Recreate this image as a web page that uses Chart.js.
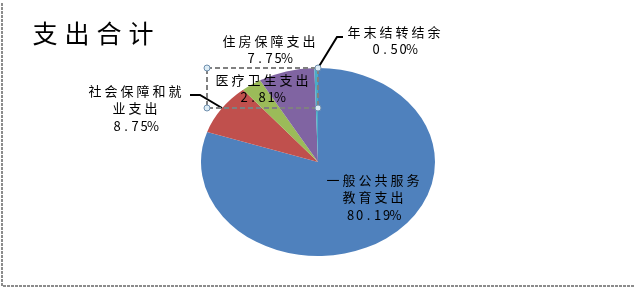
<!DOCTYPE html>
<html><head><meta charset="utf-8">
<script src="https://cdn.jsdelivr.net/npm/chart.js@4/dist/chart.umd.min.js"></script>
<style>html,body{margin:0;padding:0;background:#fff;overflow:hidden}</style>
</head><body>
<canvas id="c" width="636" height="290" style="display:block;width:636px;height:290px"></canvas>
<script>
const title = '支出合计';
const categories = ['一般公共服务教育支出', '社会保障和就业支出', '医疗卫生支出', '住房保障支出', '年末结转结余'];
const values = [80.19, 8.75, 2.81, 7.75, 0.50];
const colors = ['#4F81BD', '#C0504D', '#9BBB59', '#8064A2', '#4BACC6'];
// label anchors (first-line centre) relative to the pie centre
const labelOffsets = [[55, 18], [-183, -71], [-56, -82], [-49, -121], [76, -130]];

const FONT = '"Noto Sans CJK SC", "Noto Sans", sans-serif';
const ELLIPSE = 94 / 117;

function drawSpaced(ctx, text, cx, cy, size, cjkPitch, asciiPitch) {
  ctx.font = size + 'px ' + FONT;
  ctx.textAlign = 'center';
  ctx.textBaseline = 'middle';
  const chars = [...text];
  const slots = chars.map(ch => ch.charCodeAt(0) < 256 ? asciiPitch : cjkPitch);
  const total = slots.reduce((a, b) => a + b, 0);
  let x = cx - total / 2;
  chars.forEach((ch, i) => { ctx.fillText(ch, x + slots[i] / 2, cy); x += slots[i]; });
}
function wrap(s, n) { const out = []; const a = [...s]; for (let i = 0; i < a.length; i += n) out.push(a.slice(i, i + n).join('')); return out; }

const decor = {
  id: 'decor',
  beforeDraw(chart) {
    const ctx = chart.ctx;
    ctx.save();
    ctx.fillStyle = '#fff';
    ctx.fillRect(0, 0, chart.width, chart.height);
    ctx.strokeStyle = '#8c8c8c';
    ctx.lineWidth = 2;
    ctx.setLineDash([3, 1]);
    ctx.beginPath();
    ctx.moveTo(2, 3); ctx.lineTo(2, 286); ctx.lineTo(634, 286);
    ctx.stroke();
    ctx.restore();
  },
  beforeDatasetsDraw(chart) {
    const arc = chart.getDatasetMeta(0).data[0];
    const ctx = chart.ctx;
    ctx.save();
    ctx.translate(arc.x, arc.y);
    ctx.scale(1, ELLIPSE);
    ctx.translate(-arc.x, -arc.y);
  },
  afterDatasetsDraw(chart) {
    chart.ctx.restore();
  },
  afterDraw(chart) {
    const ctx = chart.ctx;
    const arc = chart.getDatasetMeta(0).data[0];
    const cx = arc.x, cy = arc.y;
    ctx.save();
    ctx.fillStyle = '#000';
    drawSpaced(ctx, title, 93, 33, 25, 32, 16);
    // leader lines
    ctx.strokeStyle = '#000';
    ctx.lineWidth = 2;
    ctx.beginPath();
    ctx.moveTo(cx - 128, cy - 67); ctx.lineTo(cx - 118, cy - 67); ctx.lineTo(cx - 96, cy - 54);
    ctx.moveTo(cx, cy - 94); ctx.lineTo(cx + 19, cy - 125); ctx.lineTo(cx + 25, cy - 125);
    ctx.stroke();
    // selection box around one label
    ctx.strokeStyle = '#808080';
    ctx.setLineDash([5, 3]);
    ctx.strokeRect(cx - 111, cy - 94, 111, 40);
    ctx.setLineDash([]);
    ctx.lineWidth = 1;
    [[cx - 111, cy - 94], [cx, cy - 94], [cx - 111, cy - 54], [cx, cy - 54]].forEach(([x, y]) => {
      ctx.beginPath(); ctx.arc(x, y, 3, 0, Math.PI * 2);
      ctx.fillStyle = '#dcecf5'; ctx.fill();
      ctx.strokeStyle = '#6f8fae'; ctx.stroke();
    });
    ctx.fillStyle = '#000';
    categories.forEach((name, i) => {
      const lines = wrap(name, 6).concat([values[i].toFixed(2) + '%']);
      const [dx, dy] = labelOffsets[i];
      lines.forEach((ln, j) => drawSpaced(ctx, ln, cx + dx, cy + dy + j * 17.5, 13, 16, 9));
    });
    ctx.restore();
  }
};

new Chart(document.getElementById('c'), {
  type: 'pie',
  data: {
    labels: categories,
    datasets: [{ data: values, backgroundColor: colors, borderWidth: 0, hoverBorderWidth: 0, hoverOffset: 0 }]
  },
  options: {
    responsive: false,
    animation: false,
    devicePixelRatio: 1,
    layout: { padding: { left: 201, right: 201, top: 45, bottom: 11 } },
    plugins: { legend: { display: false }, tooltip: { enabled: false } }
  },
  plugins: [decor]
});
</script>
</body></html>
